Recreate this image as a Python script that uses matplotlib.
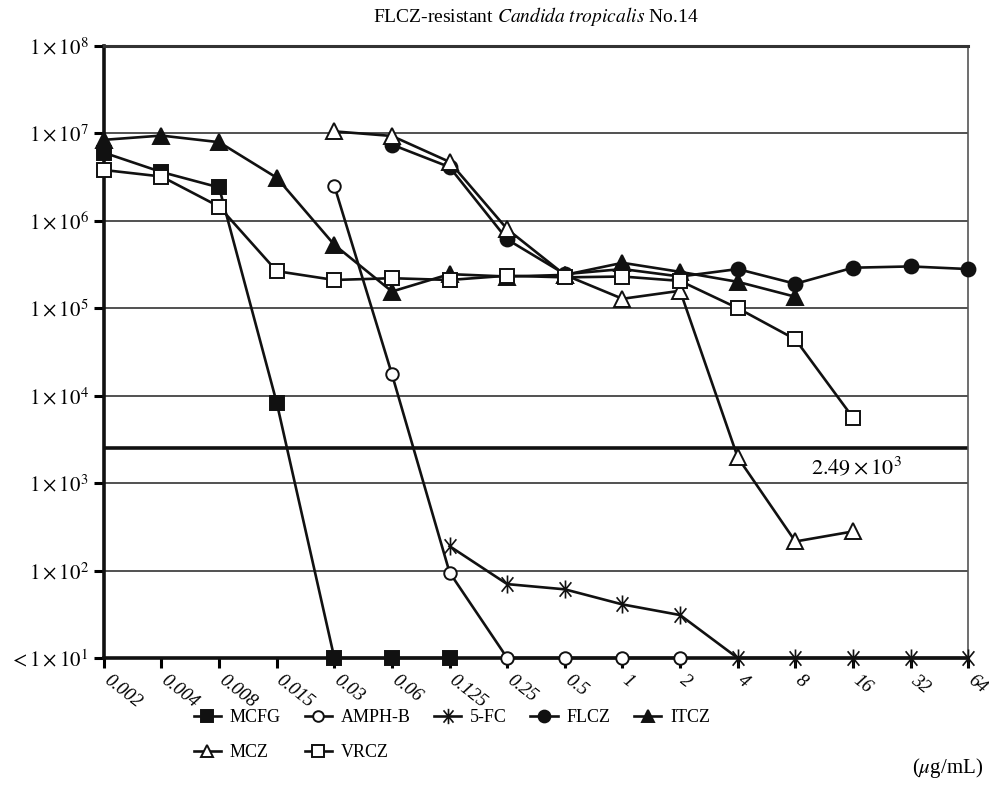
import matplotlib.pyplot as plt
import matplotlib.transforms as mtransforms
from matplotlib.path import Path
import numpy as np

plt.rcParams['font.family'] = ['Liberation Serif', 'DejaVu Serif']
plt.rcParams['mathtext.fontset'] = 'stix'

# drug concentrations (ug/mL) and viable counts per drug
conc = ['0.002', '0.004', '0.008', '0.015', '0.03', '0.06', '0.125', '0.25',
        '0.5', '1', '2', '4', '8', '16', '32', '64']
nan = np.nan
MCFG = [6.0e6, 3.6e6, 2.4e6, 8.3e3, 10, 10, 10, nan, nan, nan, nan, nan, nan, nan, nan, nan]
AMPHB = [nan, nan, nan, nan, 2.5e6, 1.75e4, 95, 10, 10, 10, 10, nan, nan, nan, nan, nan]
FC5 = [nan, nan, nan, nan, nan, nan, 190, 70, 61, 41, 31, 10, 10, 10, 10, 10]
FLCZ = [nan, nan, nan, nan, nan, 7.4e6, 4.1e6, 6.1e5, 2.45e5, 2.8e5, 2.3e5, 2.8e5, 1.9e5, 2.9e5, 3.0e5, 2.8e5]
ITCZ = [8.4e6, 9.4e6, 7.9e6, 3.1e6, 5.3e5, 1.55e5, 2.45e5, 2.3e5, 2.4e5, 3.3e5, 2.6e5, 2.0e5, 1.35e5, nan, nan, nan]
MCZ = [nan, nan, nan, nan, 1.05e7, 9.3e6, 4.7e6, 8.0e5, 2.4e5, 1.28e5, 1.58e5, 1.97e3, 215, 280, nan, nan]
VRCZ = [3.8e6, 3.2e6, 1.45e6, 2.65e5, 2.1e5, 2.2e5, 2.1e5, 2.35e5, 2.25e5, 2.3e5, 2.05e5, 1.0e5, 4.4e4, 5.6e3, nan, nan]
cutoff = 2.49e3

x = np.arange(len(conc))

# vertical bar crossed by an X
star = Path([(0, -1), (0, 1), (-0.65, -0.8), (0.65, 0.8), (-0.65, 0.8), (0.65, -0.8)],
            [Path.MOVETO, Path.LINETO] * 3)

fig = plt.figure(figsize=(9.89, 7.89), dpi=100)
ax = fig.add_axes([0.105, 0.166, 0.874, 0.776])

ax.set_yscale('log')
ax.set_ylim(10, 1e8)
ax.set_xlim(0, len(conc) - 1)

for d in range(2, 8):
    ax.axhline(10 ** d, color='#222222', lw=1.1, zorder=1)
ax.axhline(cutoff, color='#111111', lw=2.6, zorder=1)

lw = 1.9
series = [
    ('MCFG', MCFG, dict(marker='s', mfc='#111111', ms=10)),
    ('AMPH-B', AMPHB, dict(marker='o', mfc='white', ms=9)),
    ('5-FC', FC5, dict(marker=star, mfc='white', ms=13, mew=1.2)),
    ('FLCZ', FLCZ, dict(marker='o', mfc='#111111', ms=10)),
    ('ITCZ', ITCZ, dict(marker='^', mfc='#111111', ms=11)),
    ('MCZ', MCZ, dict(marker='^', mfc='white', ms=11)),
    ('VRCZ', VRCZ, dict(marker='s', mfc='white', ms=10)),
]
handles = {}
for i, (name, vals, st) in enumerate(series):
    kw = dict(mec='#111111', mew=1.4)
    kw.update(st)
    h, = ax.plot(x, vals, color='#111111', lw=lw, label=name, clip_on=False,
                 zorder=3 + i, **kw)
    handles[name] = h

ax.text(12.27, 1.5e3, r'$2.49\times10^{3}$', fontsize=16, ha='left', va='center')

# y ticks
yt = [10 ** d for d in range(1, 9)]
ylab = [r'$<1\times10^{1}$'] + [r'$1\times10^{%d}$' % d for d in range(2, 9)]
ax.set_yticks(yt)
ax.set_yticklabels(ylab, fontsize=15)
ax.yaxis.set_minor_locator(plt.NullLocator())
ax.tick_params(axis='y', length=7, width=2.2, pad=4)

ax.set_xticks(x)
ax.set_xticklabels(conc, fontsize=13.5, style='italic', rotation=-38,
                   ha='left', va='top', rotation_mode='anchor')
ax.tick_params(axis='x', length=7, width=2.2, pad=3)
shift = mtransforms.ScaledTranslation(7 / 100, 0, fig.dpi_scale_trans)
for lab in ax.get_xticklabels():
    lab.set_transform(lab.get_transform() + shift)

for s in ['left', 'bottom']:
    ax.spines[s].set_linewidth(2.6)
    ax.spines[s].set_color('#111111')
ax.spines['top'].set_linewidth(2.2)
ax.spines['top'].set_color('#333333')
ax.spines['right'].set_linewidth(1.2)
ax.spines['right'].set_color('#555555')

ax.set_title(r'FLCZ-resistant $\it{Candida\ tropicalis}$ No.14', fontsize=14, pad=17)
fig.text(0.958, 0.027, r'($\mu$g/mL)', fontsize=15, ha='center', va='center')

order = ['MCFG', 'MCZ', 'AMPH-B', 'VRCZ', '5-FC', 'FLCZ', 'ITCZ']
fig.legend([handles[n] for n in order], order, ncol=5, frameon=False,
           loc='upper left', bbox_to_anchor=(0.196, 0.101), fontsize=13,
           handlelength=1.5, columnspacing=1.3, handletextpad=0.5,
           labelspacing=1.0, borderpad=0, borderaxespad=0, markerscale=0.85)

fig.savefig('out.png', dpi=100)
